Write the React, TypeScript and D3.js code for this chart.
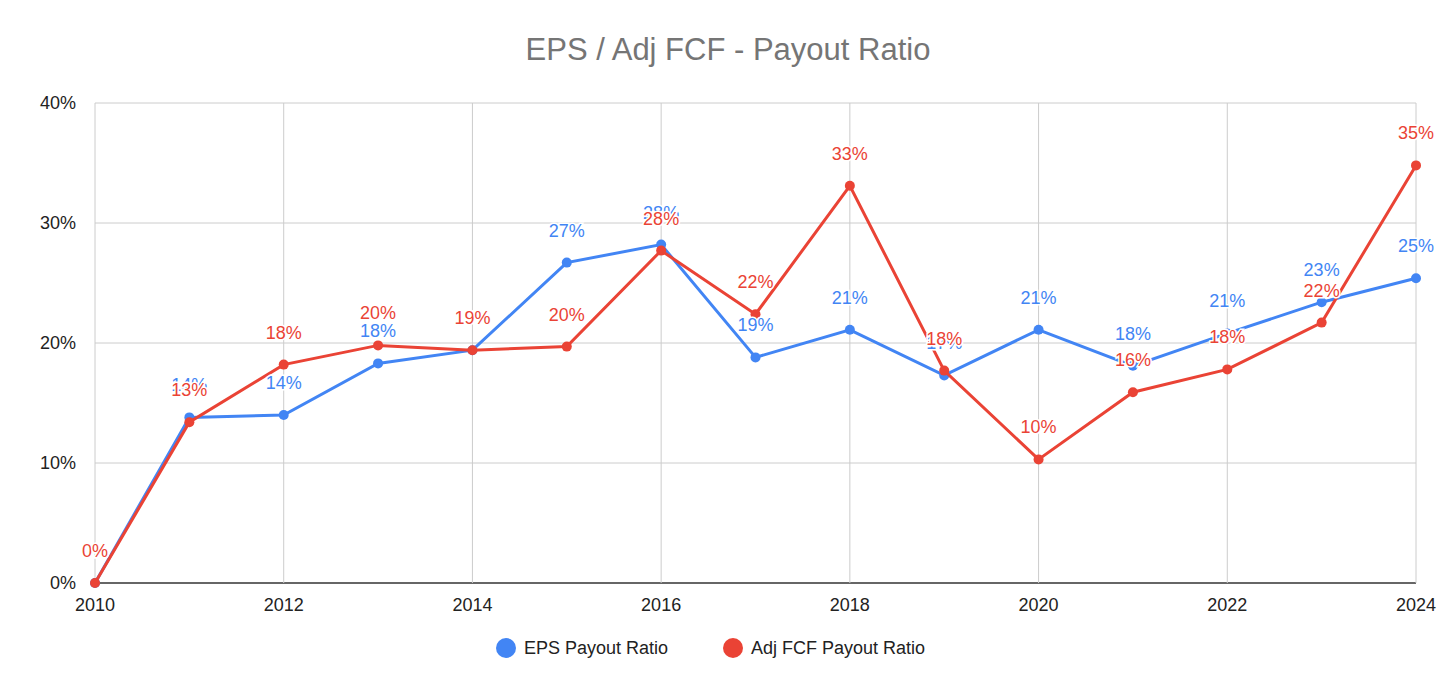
import React from "react";
import * as d3 from "d3";

const years = [2010,2011,2012,2013,2014,2015,2016,2017,2018,2019,2020,2021,2022,2023,2024];
const eps = [0,13.8,14.0,18.3,19.4,26.7,28.2,18.8,21.1,17.3,21.1,18.1,20.8,23.4,25.4];
const fcf = [0,13.4,18.2,19.8,19.4,19.7,27.7,22.4,33.1,17.7,10.3,15.9,17.8,21.7,34.8];
const yTicks = [0,10,20,30,40];
const xTicks = [2010,2012,2014,2016,2018,2020,2022,2024];
const seriesNames = ["EPS Payout Ratio","Adj FCF Payout Ratio"];
const colors = ["#4285F4","#EA4335"];

export default function App() {
  const W = 1456, H = 694;
  const x = d3.scaleLinear().domain([2010,2024]).range([95,1416]);
  const y = d3.scaleLinear().domain([0,40]).range([583,103]);
  const line = d3.line<number>().x((_, i) => x(years[i])).y(d => y(d));
  const series = [eps, fcf];
  const font = "'Liberation Sans', Arial, sans-serif";
  return (
    <svg width={W} height={H} style={{position:"absolute",left:0,top:0,background:"#fff"}} fontFamily={font}>
      <text x={728} y={60} textAnchor="middle" fontSize={31} fill="#757575">EPS / Adj FCF - Payout Ratio</text>
      {yTicks.map(t => (
        <g key={t}>
          <line x1={95} x2={1416} y1={y(t)} y2={y(t)} stroke={t===0?"#333":"#ccc"} strokeWidth={t===0?1.5:1}/>
          <text x={76} y={y(t)+6} textAnchor="end" fontSize={18} fill="#222">{t}%</text>
        </g>
      ))}
      {xTicks.map(t => (
        <g key={t}>
          <line x1={x(t)} x2={x(t)} y1={103} y2={583} stroke="#ccc"/>
          <text x={x(t)} y={611} textAnchor="middle" fontSize={18} fill="#222">{t}</text>
        </g>
      ))}
      {series.map((s, k) => (
        <g key={k}>
          <path d={line(s) || ""} fill="none" stroke={colors[k]} strokeWidth={3}/>
          {s.map((v, i) => <circle key={i} cx={x(years[i])} cy={y(v)} r={5} fill={colors[k]}/>)}
        </g>
      ))}
      {series.map((s, k) => (
        <g key={"l"+k}>
          {s.map((v, i) => (
            <text key={i} x={x(years[i])} y={y(v)-26} textAnchor="middle" fontSize={18}
              fill={colors[k]} stroke="#fff" strokeWidth={3} paintOrder="stroke">{Math.round(v)}%</text>
          ))}
        </g>
      ))}
      <g>
        <circle cx={506} cy={648} r={10} fill={colors[0]}/>
        <text x={524} y={654} fontSize={18} fill="#222">{seriesNames[0]}</text>
        <circle cx={733} cy={648} r={10} fill={colors[1]}/>
        <text x={751} y={654} fontSize={18} fill="#222">{seriesNames[1]}</text>
      </g>
    </svg>
  );
}
